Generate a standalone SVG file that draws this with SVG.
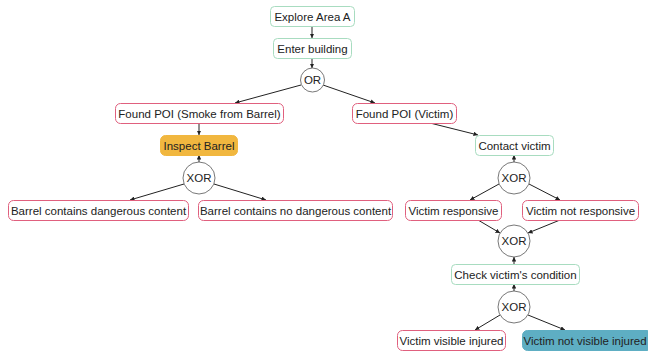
<svg xmlns="http://www.w3.org/2000/svg" width="648" height="352" viewBox="0 0 648 352">
<defs>
<marker id="ah" viewBox="0 0 10 10" refX="10" refY="5" markerWidth="4.5" markerHeight="4.5" orient="auto"><path d="M0,0 L10,5 L0,10 z" fill="#222"/></marker>
<style>
.t{font-family:"Liberation Sans",Arial,sans-serif;font-size:11.5px;fill:#222;text-anchor:middle;dominant-baseline:central}
.g{fill:#fff;stroke:#a8dcc0;stroke-width:1}
.p{fill:#fff;stroke:#e0607e;stroke-width:1}
.o{fill:#f1b73f;stroke:#f1b73f}
.b{fill:#5eaec3;stroke:#5eaec3}
.c{fill:#fff;stroke:#555;stroke-width:0.8}
.e{stroke:#222;stroke-width:1;fill:none;marker-end:url(#ah)}
</style>
</defs>
<rect width="648" height="352" fill="#fff"/>
<g id="connectors">
<line class="e" x1="312" y1="26" x2="312" y2="38"/>
<line class="e" x1="312" y1="58" x2="312" y2="68"/>
<line class="e" x1="301" y1="85" x2="235" y2="103"/>
<line class="e" x1="323" y1="85" x2="375" y2="103"/>
<line class="e" x1="199" y1="123" x2="199" y2="135"/>
<line class="e" x1="199" y1="163" x2="199" y2="155"/>
<line class="e" x1="184" y1="184" x2="130" y2="200"/>
<line class="e" x1="214" y1="184" x2="266" y2="200"/>
<line class="e" x1="430" y1="123" x2="478" y2="135"/>
<line class="e" x1="514" y1="163" x2="514" y2="155"/>
<line class="e" x1="499" y1="184" x2="470" y2="200"/>
<line class="e" x1="529" y1="184" x2="560" y2="200"/>
<line class="e" x1="478" y1="220" x2="500" y2="233"/>
<line class="e" x1="560" y1="220" x2="528" y2="233"/>
<line class="e" x1="514" y1="264" x2="514" y2="257"/>
<line class="e" x1="514" y1="291" x2="514" y2="284"/>
<line class="e" x1="500" y1="315" x2="475" y2="330"/>
<line class="e" x1="528" y1="315" x2="565" y2="330"/>
</g>
<g id="n1"><rect class="g" x="270.5" y="6.5" width="84" height="20" rx="4"/><text class="t" x="312.5" y="16.5">Explore Area A</text></g>
<g id="n2"><rect class="g" x="273.5" y="38.5" width="78" height="20" rx="4"/><text class="t" x="312.5" y="48.5">Enter building</text></g>
<g id="n3"><circle class="c" cx="312.5" cy="80" r="12"/><text class="t" x="312.5" y="80">OR</text></g>
<g id="n4"><rect class="p" x="115.5" y="103.5" width="168" height="20" rx="5"/><text class="t" x="199.5" y="113.5">Found POI (Smoke from Barrel)</text></g>
<g id="n5"><rect class="p" x="352.5" y="103.5" width="104" height="20" rx="5"/><text class="t" x="404.5" y="113.5">Found POI (Victim)</text></g>
<g id="n6"><rect class="o" x="160.5" y="135.5" width="77" height="20" rx="5"/><text class="t" x="199" y="145.5">Inspect Barrel</text></g>
<g id="n7"><circle class="c" cx="199" cy="178" r="16"/><text class="t" x="199" y="178">XOR</text></g>
<g id="n8"><rect class="p" x="8.5" y="200.5" width="180" height="20" rx="5"/><text class="t" x="98.5" y="210.5">Barrel contains dangerous content</text></g>
<g id="n9"><rect class="p" x="198.5" y="200.5" width="194" height="20" rx="5"/><text class="t" x="295.5" y="210.5">Barrel contains no dangerous content</text></g>
<g id="n10"><rect class="g" x="475.5" y="135.5" width="78" height="20" rx="4"/><text class="t" x="514.5" y="145.5">Contact victim</text></g>
<g id="n11"><circle class="c" cx="514" cy="178" r="16"/><text class="t" x="514" y="178">XOR</text></g>
<g id="n12"><rect class="p" x="405.5" y="200.5" width="96" height="20" rx="5"/><text class="t" x="453.5" y="210.5">Victim responsive</text></g>
<g id="n13"><rect class="p" x="522.5" y="200.5" width="116" height="20" rx="5"/><text class="t" x="580.5" y="210.5">Victim not responsive</text></g>
<g id="n14"><circle class="c" cx="514" cy="241" r="16"/><text class="t" x="514" y="241">XOR</text></g>
<g id="n15"><rect class="g" x="451.5" y="264.5" width="128" height="20" rx="4"/><text class="t" x="515.5" y="274.5">Check victim's condition</text></g>
<g id="n16"><circle class="c" cx="514" cy="307" r="16"/><text class="t" x="514" y="307">XOR</text></g>
<g id="n17"><rect class="p" x="397.5" y="330.5" width="108" height="20" rx="5"/><text class="t" x="451.5" y="340.5">Victim visible injured</text></g>
<g id="n18"><rect class="b" x="522.5" y="330.5" width="130" height="20" rx="5"/><text class="t" x="585" y="340.5">Victim not visible injured</text></g>
</svg>
